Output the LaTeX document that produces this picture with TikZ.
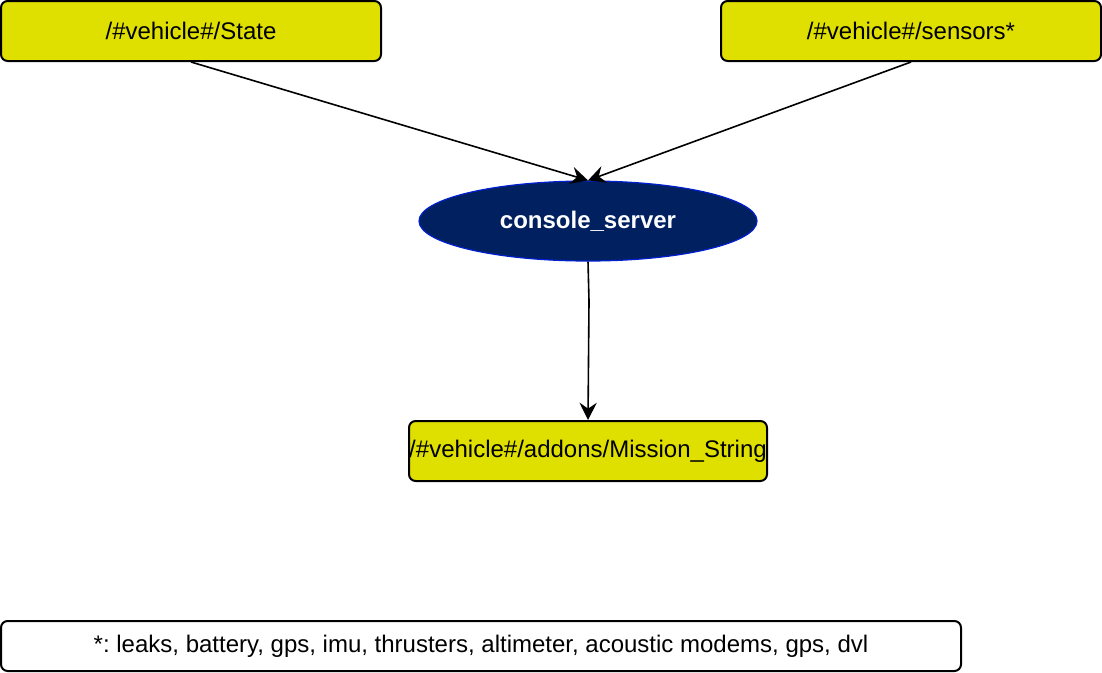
\documentclass[tikz,border=0pt]{standalone}
\usepackage{fontspec}
\setmainfont{Liberation Sans}
\usetikzlibrary{shapes.geometric,arrows.meta}
\definecolor{topicyellow}{HTML}{E0E000}
\definecolor{nodeblue}{HTML}{002060}
\definecolor{nodeborder}{HTML}{0020D0}
\frenchspacing
\begin{document}
\begin{tikzpicture}[x=0.75pt,y=-0.75pt,
  topic/.style={draw=black,line width=1.5pt,fill=topicyellow,rounded corners=5pt,
    minimum width=285pt,minimum height=45pt,inner sep=0pt,font=\fontsize{18pt}{21pt}\selectfont},
  rosnode/.style={ellipse,draw=nodeborder,line width=0.9pt,fill=nodeblue,text=white,
    minimum width=253.5pt,minimum height=60pt,inner sep=0pt,font=\bfseries\fontsize{18pt}{21pt}\selectfont},
  note/.style={draw=black,line width=1.5pt,fill=white,rounded corners=5pt,
    minimum width=720pt,minimum height=37.5pt,inner sep=0pt,font=\fontsize{18pt}{21pt}\selectfont},
  conn/.style={line width=1.2pt,-{Stealth[length=13pt,width=13pt,inset=4.5pt]}}]
\useasboundingbox (0,0) rectangle (1102,672);
\node[topic] (state) at (191,31) {/\#vehicle\#/State};
\node[topic] (sensors) at (911,31) {/\#vehicle\#/sensors*};
\node[rosnode] (console) at (588,221) {console\_server};
\node[topic,minimum width=268.5pt] (mission) at (588,451) {/\#vehicle\#/addons/Mission\_String};
\node[note] (legend) at (481,646) {*: leaks, battery, gps, imu, thrusters, altimeter, acoustic modems, gps, dvl};
\coordinate (bend) at (589,301);
\draw[conn] (state.south) -- (console.north);
\draw[conn] (sensors.south) -- (console.north);
\draw[conn] (console.south) -- (bend) -- (mission.north);
\end{tikzpicture}
\end{document}
